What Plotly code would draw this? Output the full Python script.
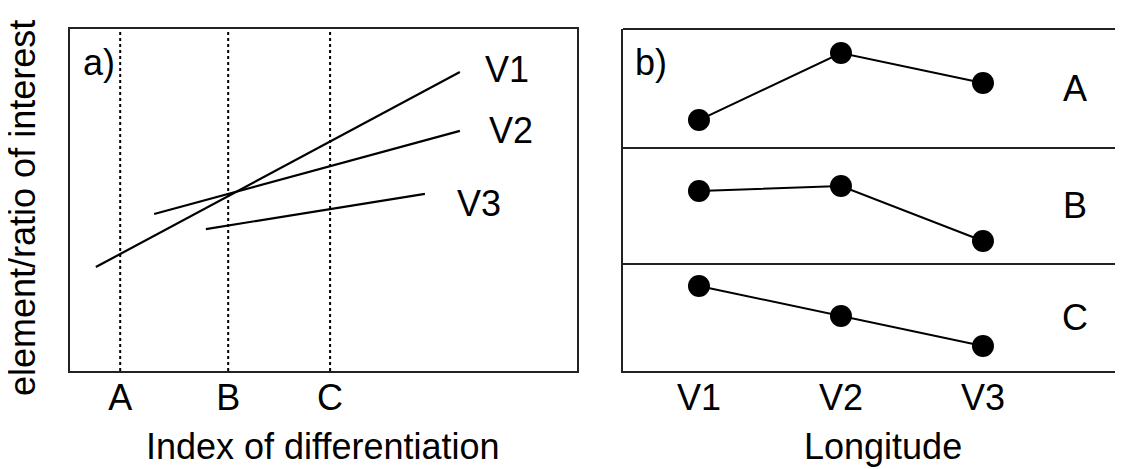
import plotly.graph_objects as go

# ---------------- data: panel a ----------------
series_a = ["V1", "V2", "V3"]
a_x_start = [0.51, 1.66, 2.68]
a_x_end = [7.69, 7.69, 7.00]
a_y_start = [3.04, 4.59, 4.15]
a_y_end = [8.74, 7.02, 5.18]
cut_names = ["A", "B", "C"]
cut_pos = [0.99, 3.12, 5.13]

# ---------------- data: panel b ----------------
longitudes = ["V1", "V2", "V3"]
long_pos = [1, 2, 3]
b_groups = ["A", "B", "C"]
b_A = [2.35, 7.98, 5.46]
b_B = [6.29, 6.72, 1.98]
b_C = [7.94, 5.14, 2.34]

FONT = "Liberation Sans, Arial, Helvetica, sans-serif"
OFF = 8  # page body margin
W, H = 1123 - OFF, 469 - OFF

def px_x(p):
    return (p - OFF) / W

def px_y(p):
    return 1 - (p - OFF) / H

fig = go.Figure()

# panel a lines
for name, x0, x1, y0, y1 in zip(series_a, a_x_start, a_x_end, a_y_start, a_y_end):
    fig.add_trace(go.Scatter(x=[x0, x1], y=[y0, y1], mode="lines",
                             line=dict(color="black", width=2.2),
                             xaxis="x", yaxis="y", showlegend=False, name=name))
# dotted reference lines
for name, xp in zip(cut_names, cut_pos):
    fig.add_trace(go.Scatter(x=[xp, xp], y=[0, 10], mode="lines",
                             line=dict(color="black", width=2, dash="dot"),
                             xaxis="x", yaxis="y", showlegend=False, name=name))

# panel b series
for g, vals, ya in zip(b_groups, [b_A, b_B, b_C], ["y2", "y3", "y4"]):
    fig.add_trace(go.Scatter(x=long_pos, y=vals, mode="lines+markers",
                             line=dict(color="black", width=2),
                             marker=dict(color="black", size=22),
                             xaxis="x2", yaxis=ya, showlegend=False, name=g))

frame_col = "#222222"
tick_font = dict(family=FONT, size=36, color="black")

# domains (paper)
xa_dom = [px_x(70), px_x(577)]
ya_dom = [px_y(371), px_y(29)]
xb_dom = [px_x(623), 1.0]
yb_A = [px_y(148), px_y(29)]
yb_B = [px_y(264), px_y(148)]
yb_C = [px_y(371), px_y(264)]

fig.update_layout(
    width=W, height=H,
    margin=dict(l=0, r=0, t=0, b=0),
    paper_bgcolor="white", plot_bgcolor="white",
    font=dict(family=FONT, color="black"),
    xaxis=dict(domain=xa_dom, range=[0, 10], anchor="y",
               tickmode="array", tickvals=cut_pos, ticktext=cut_names,
               ticks="", showgrid=False, zeroline=False,
               showline=True, mirror=True, linecolor=frame_col, linewidth=2,
               tickfont=tick_font, ticklabelstandoff=-6),
    yaxis=dict(domain=ya_dom, range=[0, 10], anchor="x",
               showticklabels=False, ticks="", showgrid=False, zeroline=False,
               showline=True, mirror=True, linecolor=frame_col, linewidth=2),
    xaxis2=dict(domain=xb_dom, range=[0.465, 3.986], anchor="y4",
                tickmode="array", tickvals=long_pos, ticktext=longitudes,
                ticks="", showgrid=False, zeroline=False,
                showline=True, linecolor=frame_col, linewidth=2,
                tickfont=tick_font, ticklabelstandoff=-6),
    yaxis2=dict(domain=yb_A, range=[0, 10], anchor="x2",
                showticklabels=False, ticks="", showgrid=False, zeroline=False,
                showline=True, linecolor=frame_col, linewidth=2),
    yaxis3=dict(domain=yb_B, range=[0, 10], anchor="x2",
                showticklabels=False, ticks="", showgrid=False, zeroline=False,
                showline=True, linecolor=frame_col, linewidth=2),
    yaxis4=dict(domain=yb_C, range=[0, 10], anchor="x2",
                showticklabels=False, ticks="", showgrid=False, zeroline=False,
                showline=True, linecolor=frame_col, linewidth=2),
)

# horizontal borders of panel b (top and dividers)
for yv in [yb_A[1], yb_A[0], yb_B[0]]:
    fig.add_shape(type="line", xref="paper", yref="paper",
                  x0=xb_dom[0], x1=1.0, y0=yv, y1=yv,
                  line=dict(color=frame_col, width=2))

ann_font = dict(family=FONT, size=36, color="black")
annotations = []
# series labels panel a
for name, x1, y1, dx, dy in zip(series_a, a_x_end, a_y_end, [23, 27, 30], [3, 0, -10]):
    annotations.append(dict(x=x1, y=y1, xref="x", yref="y", text=name,
                            showarrow=False, xanchor="left", yanchor="middle",
                            xshift=dx, yshift=dy, font=ann_font))
# group labels panel b
for g, ya in zip(b_groups, ["y2", "y3", "y4"]):
    annotations.append(dict(x=3.648, y=5, xref="x2", yref=ya,
                            text=g, showarrow=False, xanchor="center", yanchor="middle",
                            font=ann_font))
# panel letters
annotations.append(dict(x=px_x(99), y=px_y(62), xref="paper", yref="paper", text="a)",
                        showarrow=False, xanchor="center", yanchor="middle", font=ann_font))
annotations.append(dict(x=px_x(651), y=px_y(62), xref="paper", yref="paper", text="b)",
                        showarrow=False, xanchor="center", yanchor="middle", font=ann_font))
# axis titles
annotations.append(dict(x=px_x(323), y=px_y(446), xref="paper", yref="paper",
                        text="Index of differentiation", showarrow=False,
                        xanchor="center", yanchor="middle", font=ann_font))
annotations.append(dict(x=px_x(883), y=px_y(446), xref="paper", yref="paper",
                        text="Longitude", showarrow=False,
                        xanchor="center", yanchor="middle", font=ann_font))
annotations.append(dict(x=px_x(22), y=px_y(208), xref="paper", yref="paper",
                        text="element/ratio of interest", showarrow=False, textangle=-90,
                        xanchor="center", yanchor="middle", font=ann_font))
fig.update_layout(annotations=annotations)

fig.write_html("out.html")
